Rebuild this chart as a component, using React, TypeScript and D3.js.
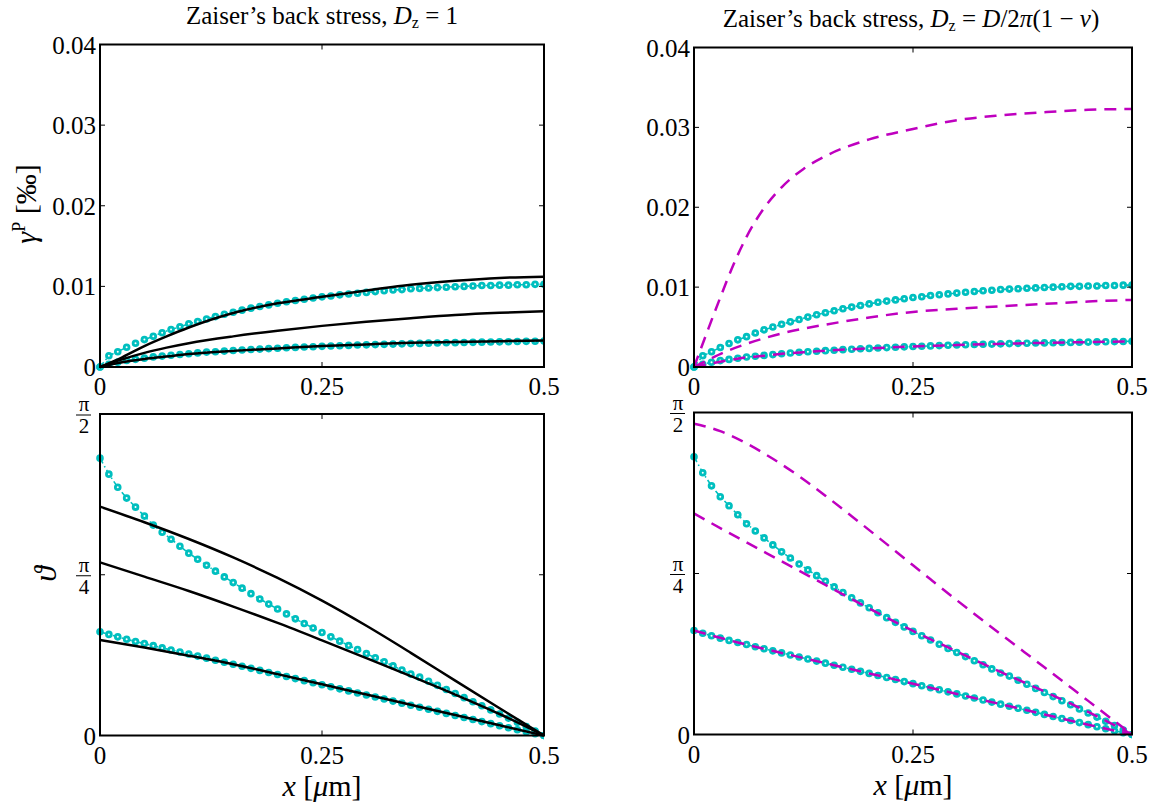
import React from 'react';
import * as d3 from 'd3';

// sample points of the dotted (cyan) solution, step 0.01 um
const xFine = [
  0, 0.01, 0.02, 0.03, 0.04, 0.05, 0.06, 0.07, 0.08, 0.09,
  0.1, 0.11, 0.12, 0.13, 0.14, 0.15, 0.16, 0.17, 0.18, 0.19,
  0.2, 0.21, 0.22, 0.23, 0.24, 0.25, 0.26, 0.27, 0.28, 0.29,
  0.3, 0.31, 0.32, 0.33, 0.34, 0.35, 0.36, 0.37, 0.38, 0.39,
  0.4, 0.41, 0.42, 0.43, 0.44, 0.45, 0.46, 0.47, 0.48, 0.49, 0.5,
];

// plastic slip, cyan (values in 1e-3 units of the axis)
const gammaCyanHigh = [
  0, 1.4, 1.9, 2.45, 2.95, 3.4, 3.8, 4.25, 4.65, 5.0,
  5.35, 5.65, 5.95, 6.25, 6.55, 6.8, 7.05, 7.3, 7.5, 7.7,
  7.9, 8.1, 8.25, 8.4, 8.55, 8.7, 8.8, 8.95, 9.05, 9.15,
  9.25, 9.35, 9.45, 9.55, 9.6, 9.7, 9.75, 9.8, 9.85, 9.9,
  9.95, 10.0, 10.05, 10.1, 10.1, 10.15, 10.15, 10.2, 10.2, 10.25, 10.25,
];
const gammaCyanLow = [
  0, 0.35, 0.6, 0.8, 0.95, 1.1, 1.25, 1.35, 1.45, 1.55,
  1.65, 1.75, 1.85, 1.9, 1.97, 2.05, 2.1, 2.17, 2.22, 2.28,
  2.33, 2.38, 2.43, 2.48, 2.52, 2.56, 2.6, 2.64, 2.68, 2.72,
  2.75, 2.78, 2.81, 2.84, 2.87, 2.9, 2.93, 2.96, 2.98, 3.0,
  3.02, 3.04, 3.06, 3.08, 3.1, 3.12, 3.14, 3.16, 3.18, 3.2, 3.22,
];

// angle, cyan
const thetaCyanHigh = [
  1.355, 1.277, 1.213, 1.16, 1.116, 1.072, 1.028, 0.993, 0.959, 0.925,
  0.891, 0.861, 0.832, 0.803, 0.775, 0.747, 0.72, 0.693, 0.667, 0.642,
  0.618, 0.594, 0.57, 0.547, 0.525, 0.503, 0.482, 0.461, 0.44, 0.42,
  0.4, 0.38, 0.36, 0.34, 0.32, 0.3, 0.285, 0.265, 0.245, 0.225,
  0.205, 0.185, 0.165, 0.145, 0.125, 0.105, 0.085, 0.065, 0.044, 0.022, 0,
];
const thetaCyanLow = [
  0.507, 0.494, 0.482, 0.47, 0.459, 0.449, 0.439, 0.428, 0.418, 0.408,
  0.398, 0.388, 0.378, 0.368, 0.358, 0.348, 0.338, 0.328, 0.318, 0.308,
  0.298, 0.288, 0.278, 0.268, 0.258, 0.248, 0.238, 0.228, 0.218, 0.208,
  0.198, 0.188, 0.178, 0.168, 0.158, 0.148, 0.138, 0.128, 0.118, 0.108,
  0.098, 0.088, 0.078, 0.068, 0.058, 0.048, 0.038, 0.028, 0.018, 0.009, 0,
];

// black solid lines, left column (Dz = 1)
const xCoarse = [0, 0.025, 0.05, 0.075, 0.1, 0.15, 0.2, 0.25, 0.3, 0.35, 0.4, 0.45, 0.5];
const gammaBlack1 = [0, 1.2, 2.6, 3.8, 4.9, 6.7, 7.9, 8.7, 9.5, 10.2, 10.7, 11.05, 11.2];
const gammaBlack2 = [0, 0.95, 1.75, 2.4, 2.95, 3.8, 4.5, 5.1, 5.6, 6.05, 6.45, 6.72, 6.9];
const gammaBlack3 = [0, 0.6, 1.0, 1.3, 1.6, 2.0, 2.3, 2.6, 2.8, 3.0, 3.1, 3.2, 3.3];

const xTheta = [0, 0.05, 0.1, 0.15, 0.2, 0.25, 0.3, 0.35, 0.4, 0.45, 0.5];
const thetaBlack1 = [1.118, 1.042, 0.96, 0.87, 0.77, 0.659, 0.536, 0.404, 0.268, 0.133, 0];
const thetaBlack2 = [0.846, 0.776, 0.706, 0.63, 0.55, 0.465, 0.378, 0.29, 0.2, 0.105, 0];
const thetaBlack3 = [0.467, 0.43, 0.39, 0.348, 0.3, 0.25, 0.2, 0.15, 0.1, 0.05, 0];

// magenta dashed lines, right column (Dz = D/2pi(1-nu))
const xMagTop = [0, 0.013, 0.03, 0.045, 0.06, 0.08, 0.1, 0.125, 0.15, 0.2, 0.25, 0.3, 0.35, 0.4, 0.45, 0.5];
const gammaMag1 = [0, 3.8, 8.7, 12.8, 16.3, 19.9, 22.5, 24.8, 26.4, 28.5, 29.8, 30.9, 31.5, 31.9, 32.2, 32.3];
const xMagMid = [0, 0.02, 0.04, 0.06, 0.08, 0.1, 0.125, 0.15, 0.2, 0.25, 0.3, 0.35, 0.4, 0.45, 0.5];
const gammaMag2 = [0, 1.1, 2.1, 2.9, 3.6, 4.2, 4.8, 5.3, 6.2, 6.9, 7.3, 7.6, 7.9, 8.2, 8.4];
const gammaMag3 = [0, 0.45, 0.85, 1.2, 1.4, 1.65, 1.85, 2.05, 2.33, 2.56, 2.75, 2.9, 3.02, 3.12, 3.22];

const xMagTheta = [0, 0.03, 0.06, 0.09, 0.12, 0.15, 0.18, 0.21, 0.24, 0.27, 0.3, 0.35, 0.4, 0.45, 0.5];
const thetaMag1 = [1.516, 1.48, 1.42, 1.345, 1.26, 1.165, 1.065, 0.963, 0.86, 0.757, 0.655, 0.49, 0.328, 0.164, 0];
const xMagTheta2 = [0, 0.05, 0.1, 0.15, 0.2, 0.25, 0.3, 0.35, 0.4, 0.45, 0.5];
const thetaMag2 = [1.078, 0.96, 0.845, 0.73, 0.615, 0.505, 0.405, 0.305, 0.21, 0.11, 0];
const thetaMag3 = [0.507, 0.449, 0.398, 0.348, 0.298, 0.248, 0.198, 0.148, 0.098, 0.048, 0];

const xTicks = [0, 0.25, 0.5];
const xTickLabels = ['0', '0.25', '0.5'];
const gammaTicks = [0, 0.01, 0.02, 0.03, 0.04];
const gammaTickLabels = ['0', '0.01', '0.02', '0.03', '0.04'];
const thetaTicks = [0, Math.PI / 4, Math.PI / 2];
const thetaTickDenoms = ['', '4', '2'];

const CYAN = '#00bfbf';
const MAGENTA = '#bf00bf';
const FONT = 'Liberation Serif, Times New Roman, Times, DejaVu Serif, serif';

type Box = { x0: number; x1: number; y0: number; y1: number };
type Curve = { xs: number[]; ys: number[]; color: string; dash?: string };

const Panel = ({ box, yMax, yScaleFactor, cyan, curves, kind, xLabel }: {
  box: Box; yMax: number; yScaleFactor: number; cyan: number[][]; curves: Curve[];
  kind: 'gamma' | 'theta'; xLabel: boolean;
}) => {
  const x = d3.scaleLinear().domain([0, 0.5]).range([box.x0, box.x1]);
  const y = d3.scaleLinear().domain([0, yMax]).range([box.y1, box.y0]);
  const clipId = `clip-${box.x0}-${box.y0}`;

  const smooth = d3.line<[number, number]>()
    .x(d => x(d[0]))
    .y(d => y(d[1] * yScaleFactor))
    .curve(d3.curveMonotoneX);
  const straight = d3.line<[number, number]>()
    .x(d => x(d[0]))
    .y(d => y(d[1] * yScaleFactor));

  const yTicks = kind === 'gamma' ? gammaTicks : thetaTicks;
  const tl = 5;

  return (
    <g>
      <defs>
        <clipPath id={clipId}>
          <rect x={box.x0 - 6} y={box.y0} width={box.x1 - box.x0 + 6} height={box.y1 - box.y0 + 6} />
        </clipPath>
      </defs>
      <g clipPath={`url(#${clipId})`}>
        {cyan.map((ys, i) => {
          const pts = xFine.map((xv, j) => [xv, ys[j]] as [number, number]);
          return (
            <g key={`c${i}`}>
              <path d={straight(pts) || ''} fill="none" stroke={CYAN} strokeWidth={1.6}
                strokeDasharray="6,3,1.5,3" />
              {pts.map((p, j) => (
                <circle key={j} cx={x(p[0])} cy={y(p[1] * yScaleFactor)} r={2.4}
                  fill="#fff" stroke={CYAN} strokeWidth={2.8} />
              ))}
            </g>
          );
        })}
        {curves.map((c, i) => (
          <path key={`l${i}`} d={smooth(c.xs.map((xv, j) => [xv, c.ys[j]] as [number, number])) || ''}
            fill="none" stroke={c.color} strokeWidth={2.5} strokeDasharray={c.dash} />
        ))}
      </g>
      <rect x={box.x0} y={box.y0} width={box.x1 - box.x0} height={box.y1 - box.y0}
        fill="none" stroke="#000" strokeWidth={2} />
      {xTicks.map((t, i) => (
        <g key={`xt${i}`}>
          <line x1={x(t)} x2={x(t)} y1={box.y1} y2={box.y1 - tl} stroke="#000" strokeWidth={1} />
          <line x1={x(t)} x2={x(t)} y1={box.y0} y2={box.y0 + tl} stroke="#000" strokeWidth={1} />
          <text x={x(t)} y={box.y1 + 28} textAnchor="middle" fontSize={25}>
            {xTickLabels[i]}
          </text>
        </g>
      ))}
      {yTicks.map((t, i) => (
        <g key={`yt${i}`}>
          <line x1={box.x0} x2={box.x0 + tl} y1={y(t)} y2={y(t)} stroke="#000" strokeWidth={1} />
          <line x1={box.x1} x2={box.x1 - tl} y1={y(t)} y2={y(t)} stroke="#000" strokeWidth={1} />
          {kind === 'gamma' || i === 0 ? (
            <text x={box.x0 - 4} y={y(t) + 9} textAnchor="end" fontSize={25}>
              {kind === 'gamma' ? gammaTickLabels[i] : '0'}
            </text>
          ) : (
            <g>
              <text x={box.x0 - 16} y={y(t) - 3} textAnchor="middle" fontSize={21}>π</text>
              <line x1={box.x0 - 24} x2={box.x0 - 9} y1={y(t) + 1} y2={y(t) + 1} stroke="#000" strokeWidth={1} />
              <text x={box.x0 - 16} y={y(t) + 19} textAnchor="middle" fontSize={21}>
                {thetaTickDenoms[i]}
              </text>
            </g>
          )}
        </g>
      ))}
      {xLabel && (
        <text x={(box.x0 + box.x1) / 2} y={box.y1 + 60} textAnchor="middle" fontSize={30}>
          <tspan fontStyle="italic">x</tspan>
          <tspan> [</tspan>
          <tspan fontStyle="italic">μ</tspan>
          <tspan>m]</tspan>
        </text>
      )}
    </g>
  );
};

const App = () => {
  const boxTL = { x0: 100, x1: 544, y0: 44.5, y1: 367 };
  const boxBL = { x0: 100, x1: 544, y0: 414, y1: 735.5 };
  const boxTR = { x0: 694, x1: 1132, y0: 47.5, y1: 367 };
  const boxBR = { x0: 694, x1: 1132, y0: 412.5, y1: 734.5 };
  const g = 0.001;

  return (
    <svg width={1157} height={809}
      style={{ display: 'block', position: 'absolute', left: 0, top: 0, background: '#fff', fontFamily: FONT }}>
      <rect width={1157} height={809} fill="#fff" />
      <text x={322} y={24} textAnchor="middle" fontSize={25}>
        <tspan>Zaiser’s back stress, </tspan>
        <tspan fontStyle="italic">D</tspan>
        <tspan fontSize={16} dy={4}>z</tspan>
        <tspan dy={-4}> = 1</tspan>
      </text>
      <text x={911} y={27} textAnchor="middle" fontSize={25}>
        <tspan>Zaiser’s back stress, </tspan>
        <tspan fontStyle="italic">D</tspan>
        <tspan fontSize={16} dy={4}>z</tspan>
        <tspan dy={-4}> = </tspan>
        <tspan fontStyle="italic">D</tspan>
        <tspan>/2</tspan>
        <tspan fontStyle="italic">π</tspan>
        <tspan>(1 − </tspan>
        <tspan fontStyle="italic">ν</tspan>
        <tspan>)</tspan>
      </text>

      <text transform="translate(36,204) rotate(-90)" textAnchor="middle" fontSize={30}>
        <tspan fontStyle="italic">γ</tspan>
        <tspan fontSize={18} dy={-11}>P</tspan>
        <tspan dy={11}> [‰]</tspan>
      </text>
      <text transform="translate(56,574) rotate(-90)" textAnchor="middle" fontSize={32}
        fontStyle="italic">ϑ</text>

      <Panel box={boxTL} yMax={0.04} yScaleFactor={g} kind="gamma" xLabel={false}
        cyan={[gammaCyanHigh, gammaCyanLow]}
        curves={[
          { xs: xCoarse, ys: gammaBlack1, color: '#000' },
          { xs: xCoarse, ys: gammaBlack2, color: '#000' },
          { xs: xCoarse, ys: gammaBlack3, color: '#000' },
        ]} />
      <Panel box={boxTR} yMax={0.04} yScaleFactor={g} kind="gamma" xLabel={false}
        cyan={[gammaCyanHigh, gammaCyanLow]}
        curves={[
          { xs: xMagTop, ys: gammaMag1, color: MAGENTA, dash: '12,8' },
          { xs: xMagMid, ys: gammaMag2, color: MAGENTA, dash: '12,8' },
          { xs: xMagMid, ys: gammaMag3, color: MAGENTA, dash: '12,8' },
        ]} />
      <Panel box={boxBL} yMax={Math.PI / 2} yScaleFactor={1} kind="theta" xLabel={true}
        cyan={[thetaCyanHigh, thetaCyanLow]}
        curves={[
          { xs: xTheta, ys: thetaBlack1, color: '#000' },
          { xs: xTheta, ys: thetaBlack2, color: '#000' },
          { xs: xTheta, ys: thetaBlack3, color: '#000' },
        ]} />
      <Panel box={boxBR} yMax={Math.PI / 2} yScaleFactor={1} kind="theta" xLabel={true}
        cyan={[thetaCyanHigh, thetaCyanLow]}
        curves={[
          { xs: xMagTheta, ys: thetaMag1, color: MAGENTA, dash: '12,8' },
          { xs: xMagTheta2, ys: thetaMag2, color: MAGENTA, dash: '12,8' },
          { xs: xMagTheta2, ys: thetaMag3, color: MAGENTA, dash: '12,8' },
        ]} />
    </svg>
  );
};

export default App;
